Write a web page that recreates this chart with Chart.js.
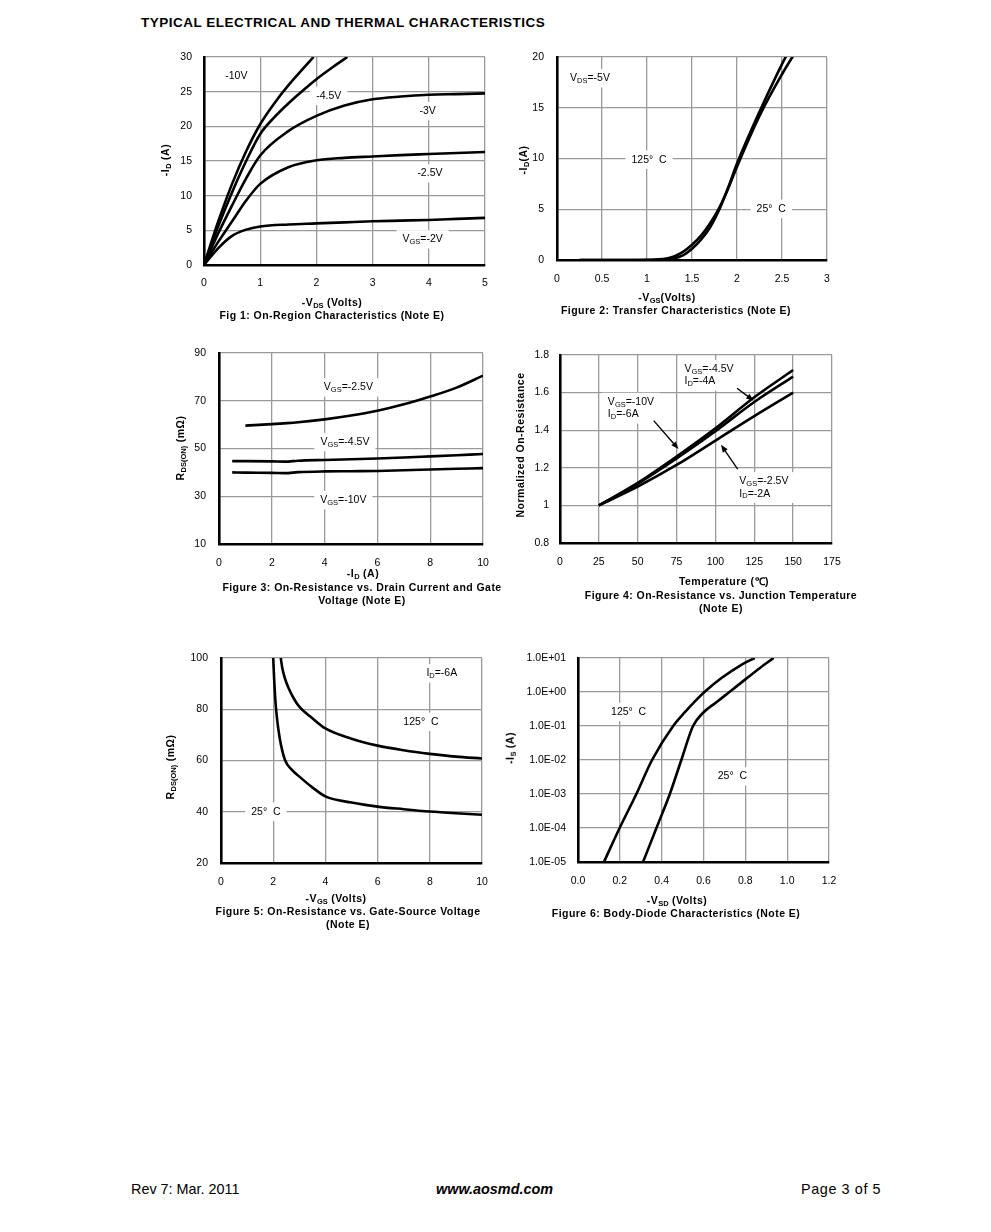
<!DOCTYPE html>
<html>
<head>
<meta charset="utf-8">
<script src="https://cdn.jsdelivr.net/npm/chart.js@4.4.1/dist/chart.umd.min.js"></script>
<style>
  html, body { margin: 0; padding: 0; background: #fff; }
  body { width: 991px; height: 1232px; position: relative; overflow: hidden;
         font-family: "Liberation Sans", Arial, sans-serif; color: #000; }
  canvas { position: absolute; }
  .t { position: absolute; white-space: nowrap; transform: translate(-50%, -50%);
       font-size: 10.5px; font-weight: bold; line-height: 1; }
  .cap { letter-spacing: .45px; }
  .ax { letter-spacing: .5px; }
  .rot { transform: translate(-50%, -50%) rotate(-90deg); }
  .t sub { font-size: 7.5px; vertical-align: -2px; line-height: 0; letter-spacing: 0; }
  .head { position: absolute; left: 141px; top: 22px; transform: translateY(-50%);
          font-size: 13.5px; font-weight: bold; letter-spacing: .5px; white-space: nowrap; }
  .foot { position: absolute; top: 1189px; transform: translateY(-50%); font-size: 14.4px; white-space: nowrap; }
</style>
</head>
<body>
<div class="head">TYPICAL ELECTRICAL AND THERMAL CHARACTERISTICS</div>

<div class="t ax rot" style="left:165px;top:160px">-I<sub>D</sub> (A)</div>
<div class="t ax" style="left:332px;top:302px">-V<sub>DS</sub> (Volts)</div>
<div class="t cap" style="left:332px;top:315px">Fig 1: On-Region Characteristics (Note E)</div>

<div class="t ax rot" style="left:523px;top:160px">-I<sub>D</sub>(A)</div>
<div class="t ax" style="left:667px;top:297px">-V<sub>GS</sub>(Volts)</div>
<div class="t cap" style="left:676px;top:310px">Figure 2: Transfer Characteristics (Note E)</div>

<div class="t ax rot" style="left:180px;top:448px">R<sub>DS(ON)</sub> (mΩ)</div>
<div class="t ax" style="left:363px;top:573px">-I<sub>D</sub> (A)</div>
<div class="t cap" style="left:362px;top:587px">Figure 3: On-Resistance vs. Drain Current and Gate</div>
<div class="t cap" style="left:362px;top:600px">Voltage (Note E)</div>

<div class="t ax rot" style="left:520px;top:445px">Normalized On-Resistance</div>
<div class="t ax" style="left:724px;top:581px">Temperature (℃)</div>
<div class="t cap" style="left:721px;top:595px">Figure 4: On-Resistance vs. Junction Temperature</div>
<div class="t cap" style="left:721px;top:608px">(Note E)</div>

<div class="t ax rot" style="left:170px;top:767px">R<sub>DS(ON)</sub> (mΩ)</div>
<div class="t ax" style="left:336px;top:898px">-V<sub>GS</sub> (Volts)</div>
<div class="t cap" style="left:348px;top:911px">Figure 5: On-Resistance vs. Gate-Source Voltage</div>
<div class="t cap" style="left:348px;top:924px">(Note E)</div>

<div class="t ax rot" style="left:510px;top:748px">-I<sub>S</sub> (A)</div>
<div class="t ax" style="left:677px;top:900px">-V<sub>SD</sub> (Volts)</div>
<div class="t cap" style="left:676px;top:913px">Figure 6: Body-Diode Characteristics (Note E)</div>

<div class="foot" style="left:131px">Rev 7: Mar. 2011</div>
<div class="foot" style="left:436px;font-weight:bold;font-style:italic">www.aosmd.com</div>
<div class="foot" style="left:801px;letter-spacing:.6px">Page 3 of 5</div>

<script>
// Fig 1: -ID vs -VDS, one curve per VGS
const f1X      = [0, 0.25, 0.5, 0.75, 1, 1.5, 2, 2.5, 3, 3.5, 4, 4.5, 5];
const f1Vgs2   = [0, 2.4, 4.2, 5.1, 5.55, 5.85, 6.0, 6.15, 6.3, 6.4, 6.5, 6.65, 6.8];
const f1Vgs2p5 = [0, 3.3, 6.3, 9.3, 11.7, 14.1, 15.1, 15.45, 15.65, 15.85, 16.0, 16.15, 16.3];
const f1Vgs3   = [0, 4.5, 8.6, 12.5, 15.8, 19.3, 21.5, 23.0, 23.9, 24.3, 24.55, 24.65, 24.75];
const f1X45    = [0, 0.25, 0.5, 0.75, 1, 1.25, 1.5, 1.75, 2, 2.25, 2.55];
const f1Vgs4p5 = [0, 5.5, 10.5, 15, 18.9, 21.3, 23.3, 25.1, 26.8, 28.3, 30];
const f1X10    = [0, 0.25, 0.5, 0.75, 1, 1.25, 1.5, 1.75, 1.95];
const f1Vgs10  = [0, 6.2, 11.7, 16.4, 20.3, 23.3, 25.9, 28.2, 30];

// Fig 2: transfer, 125C and 25C
const f2X125 = [0.25, 0.75, 1.0, 1.2, 1.3, 1.4, 1.5, 1.6, 1.7, 1.8, 1.9, 2.0, 2.25, 2.5, 2.65];
const f2I125 = [0, 0, 0.02, 0.12, 0.35, 0.8, 1.5, 2.4, 3.6, 5.1, 7.0, 9.2, 14.2, 18.3, 20.5];
const f2X25  = [0.25, 0.75, 1.0, 1.2, 1.3, 1.4, 1.5, 1.6, 1.7, 1.8, 1.9, 2.0, 2.25, 2.5, 2.6];
const f2I25  = [0, 0, 0, 0.04, 0.15, 0.45, 1.1, 2.0, 3.2, 4.9, 7.1, 9.5, 14.6, 19.3, 21];

// Fig 3: RDS(on) vs -ID
const f3X25  = [1, 2, 3, 4, 5, 6, 7, 8, 9, 10];
const f3R25  = [59.6, 60.2, 61.0, 62.2, 63.8, 65.8, 68.5, 71.8, 75.5, 80.5];
const f3X    = [0.5, 1, 2, 2.5, 3, 4, 5, 6, 7, 8, 9, 10];
const f3R45  = [44.7, 44.7, 44.6, 44.5, 44.9, 45.2, 45.5, 45.8, 46.2, 46.7, 47.2, 47.7];
const f3R10  = [40.0, 39.9, 39.8, 39.7, 40.1, 40.4, 40.5, 40.6, 40.9, 41.2, 41.5, 41.8];

// Fig 4: normalized RDS(on) vs temperature
const f4T    = [25, 50, 75, 100, 125, 150];
const f4R45  = [1, 1.12, 1.26, 1.41, 1.575, 1.72];
const f4R10  = [1, 1.115, 1.25, 1.395, 1.55, 1.685];
const f4R25  = [1, 1.10, 1.215, 1.345, 1.475, 1.60];

// Fig 5: RDS(on) vs -VGS
const f5X25  = [2.0, 2.04, 2.08, 2.12, 2.2, 2.3, 2.46, 2.7, 2.97, 3.5, 4, 5, 6, 7, 8, 9, 10];
const f5R25  = [100, 91, 84, 79, 72, 66, 60, 56.5, 54, 49.5, 46, 43.6, 42, 41, 40.1, 39.4, 38.8];
const f5X125 = [2.29, 2.35, 2.45, 2.6, 2.8, 3.0, 3.5, 4, 5, 6, 7, 8, 9, 10];
const f5R125 = [100, 96, 92, 88, 84, 81, 76.5, 72.5, 68.5, 65.8, 64, 62.6, 61.5, 60.8];

// Fig 6: body diode
const f6X125 = [0.124, 0.199, 0.279, 0.354, 0.455, 0.51, 0.56, 0.61, 0.686, 0.781, 0.845];
const f6I125 = [1e-5, 1e-4, 1e-3, 1e-2, 0.1, 0.25, 0.54, 1.07, 2.57, 6.3, 10];
const f6X25  = [0.311, 0.375, 0.439, 0.494, 0.55, 0.598, 0.66, 0.73, 0.8, 0.87, 0.935];
const f6I25  = [1e-5, 1e-4, 1e-3, 1e-2, 0.1, 0.245, 0.49, 1.07, 2.35, 5.1, 10];

// labels inside the plots (data coordinates), _{..} = subscript
const f1Notes = [
  { x: 0.575, y: 27.3, t: ['-10V'] },
  { x: 2.22, y: 24.4, t: ['-4.5V'] },
  { x: 3.98, y: 22.2, t: ['-3V'] },
  { x: 4.02, y: 13.2, t: ['-2.5V'] },
  { x: 3.89, y: 3.7, t: ['V_{GS}=-2V'] }
];
const f2Notes = [
  { x: 0.366, y: 17.9, t: ['V_{DS}=-5V'] },
  { x: 1.023, y: 9.88, t: ['125°  C'] },
  { x: 2.38, y: 5.05, t: ['25°  C'] }
];
const f3Notes = [
  { x: 4.9, y: 75.6, t: ['V_{GS}=-2.5V'] },
  { x: 4.77, y: 52.7, t: ['V_{GS}=-4.5V'] },
  { x: 4.71, y: 28.4, t: ['V_{GS}=-10V'] }
];
const f4Notes = [
  { x: 80.1, y: 1.692, t: ['V_{GS}=-4.5V', 'I_{D}=-4A'], left: true },
  { x: 30.8, y: 1.517, t: ['V_{GS}=-10V', 'I_{D}=-6A'], left: true },
  { x: 115.4, y: 1.095, t: ['V_{GS}=-2.5V', 'I_{D}=-2A'], left: true }
];
const f4Arrows = [[113.9, 1.623, 124.6, 1.557], [60.3, 1.451, 76.2, 1.30], [114.3, 1.193, 103.6, 1.322]];
const f5Notes = [
  { x: 8.46, y: 94.0, t: ['I_{D}=-6A'] },
  { x: 7.66, y: 75.1, t: ['125°  C'] },
  { x: 1.72, y: 40.0, t: ['25°  C'] }
];
const f6Notes = [
  { x: 0.242, y: 0.258, t: ['125°  C'] },
  { x: 0.738, y: 0.0033, t: ['25°  C'] }
];

const FONT = '"Liberation Sans", Arial, sans-serif';
const F_NOTE = '10.5px ' + FONT;
const F_SUB = '7.5px ' + FONT;
const GRID = '#9a9a9a';
const YW = 62, PT = 24, PR = 26, XH = 34;

const pts = (xs, ys) => xs.map((x, i) => ({ x, y: ys[i] }));

function parts(str) {
  const out = [], re = /_\{([^}]*)\}/g;
  let last = 0, m;
  while ((m = re.exec(str))) {
    if (m.index > last) out.push([str.slice(last, m.index), false]);
    out.push([m[1], true]);
    last = re.lastIndex;
  }
  if (last < str.length) out.push([str.slice(last), false]);
  return out;
}
function richWidth(ctx, str) {
  let w = 0;
  parts(str).forEach(([s, sub]) => { ctx.font = sub ? F_SUB : F_NOTE; w += ctx.measureText(s).width; });
  return w;
}
function drawRich(ctx, str, x, y) {
  parts(str).forEach(([s, sub]) => {
    ctx.font = sub ? F_SUB : F_NOTE;
    ctx.fillText(s, x, sub ? y + 2.5 : y);
    x += ctx.measureText(s).width;
  });
}

const notesPlugin = {
  id: 'notes',
  beforeDatasetsDraw(chart, args, opts) {
    const { ctx, scales: { x, y } } = chart;
    const lh = 12.4;
    ctx.save();
    ctx.textBaseline = 'middle';
    const blocks = (opts.items || []).map(it => {
      const w = Math.max(...it.t.map(s => richWidth(ctx, s)));
      const h = it.t.length * lh;
      const px = x.getPixelForValue(it.x), py = y.getPixelForValue(it.y);
      return { it, w, h, left: it.left ? px : px - w / 2, top: py - h / 2 };
    });
    ctx.fillStyle = '#fff';
    blocks.forEach(b => ctx.fillRect(b.left - 6, b.top - 3, b.w + 12, b.h + 6));
    ctx.fillStyle = '#000';
    blocks.forEach(b => b.it.t.forEach((s, i) => drawRich(ctx, s, b.left, b.top + lh * (i + 0.5))));
    (opts.arrows || []).forEach(a => {
      const x0 = x.getPixelForValue(a[0]), y0 = y.getPixelForValue(a[1]);
      const x1 = x.getPixelForValue(a[2]), y1 = y.getPixelForValue(a[3]);
      const ang = Math.atan2(y1 - y0, x1 - x0);
      ctx.strokeStyle = '#000';
      ctx.lineWidth = 1.4;
      ctx.beginPath(); ctx.moveTo(x0, y0);
      ctx.lineTo(x1 - 6 * Math.cos(ang), y1 - 6 * Math.sin(ang)); ctx.stroke();
      ctx.beginPath();
      ctx.moveTo(x1, y1);
      ctx.lineTo(x1 - 8 * Math.cos(ang - 0.38), y1 - 8 * Math.sin(ang - 0.38));
      ctx.lineTo(x1 - 8 * Math.cos(ang + 0.38), y1 - 8 * Math.sin(ang + 0.38));
      ctx.closePath(); ctx.fill();
    });
    ctx.restore();
  }
};

const num = v => String(Math.round(v * 1000) / 1000);

function axis(min, max, step, pad, fmt, extra) {
  return Object.assign({
    type: 'linear', min, max,
    ticks: { stepSize: step, padding: pad, color: '#000', font: { family: FONT, size: 10.5 },
             maxRotation: 0, autoSkip: false, callback: fmt || num },
    grid: { color: GRID, lineWidth: 1.3, drawTicks: false },
    border: { color: '#000', width: 2.6 }
  }, extra || {});
}

function addChart(box, xAx, yAx, series, notes, arrows) {
  const cv = document.createElement('canvas');
  cv.width = YW + (box.r - box.l) + PR;
  cv.height = PT + (box.b - box.t) + XH;
  cv.style.left = (box.l - YW) + 'px';
  cv.style.top = (box.t - PT) + 'px';
  document.body.insertBefore(cv, document.body.firstChild);
  xAx.afterFit = s => { s.height = XH; };
  yAx.afterFit = s => { s.width = YW; };
  new Chart(cv, {
    type: 'line',
    data: {
      datasets: series.map(s => ({
        data: s, borderColor: '#000', borderWidth: 2.6, pointRadius: 0,
        fill: false, cubicInterpolationMode: 'monotone'
      }))
    },
    options: {
      responsive: false, animation: false, devicePixelRatio: 1, events: [],
      layout: { padding: { top: PT, right: PR, left: 0, bottom: 0 } },
      plugins: { legend: { display: false }, tooltip: { enabled: false },
                 notes: { items: notes, arrows: arrows || [] } },
      scales: { x: xAx, y: yAx }
    },
    plugins: [notesPlugin]
  });
}

// Fig 1
addChart({ l: 204, t: 57, r: 485, b: 265 },
  axis(0, 5, 1, 12), axis(0, 30, 5, 12),
  [pts(f1X, f1Vgs2), pts(f1X, f1Vgs2p5), pts(f1X, f1Vgs3), pts(f1X45, f1Vgs4p5), pts(f1X10, f1Vgs10)],
  f1Notes);

// Fig 2
addChart({ l: 557, t: 57, r: 827, b: 260 },
  axis(0, 3, 0.5, 13), axis(0, 20, 5, 13),
  [pts(f2X125, f2I125), pts(f2X25, f2I25)],
  f2Notes);

// Fig 3
addChart({ l: 219, t: 353, r: 483, b: 544 },
  axis(0, 10, 2, 13), axis(10, 90, 20, 13),
  [pts(f3X25, f3R25), pts(f3X, f3R45), pts(f3X, f3R10)],
  f3Notes);

// Fig 4
addChart({ l: 560, t: 355, r: 832, b: 543 },
  axis(0, 175, 25, 13), axis(0.8, 1.8, 0.2, 11),
  [pts(f4T, f4R45), pts(f4T, f4R10), pts(f4T, f4R25)],
  f4Notes, f4Arrows);

// Fig 5
addChart({ l: 221, t: 658, r: 482, b: 863 },
  axis(0, 10, 2, 13), axis(20, 100, 20, 13),
  [pts(f5X25, f5R25), pts(f5X125, f5R125)],
  f5Notes);

// Fig 6 (log y)
const isDecade = v => Math.abs(Math.log10(v) - Math.round(Math.log10(v))) < 1e-6;
const sci = v => {
  const e = Math.round(Math.log10(v));
  return '1.0E' + (e < 0 ? '-' : '+') + String(Math.abs(e)).padStart(2, '0');
};
addChart({ l: 578, t: 658, r: 829, b: 862 },
  axis(0, 1.2, 0.2, 13, v => v.toFixed(1)),
  axis(1e-5, 10, undefined, 12, sci, {
    type: 'logarithmic',
    afterBuildTicks: s => { s.ticks = s.ticks.filter(t => isDecade(t.value)); }
  }),
  [pts(f6X125, f6I125), pts(f6X25, f6I25)],
  f6Notes);
</script>
</body>
</html>
